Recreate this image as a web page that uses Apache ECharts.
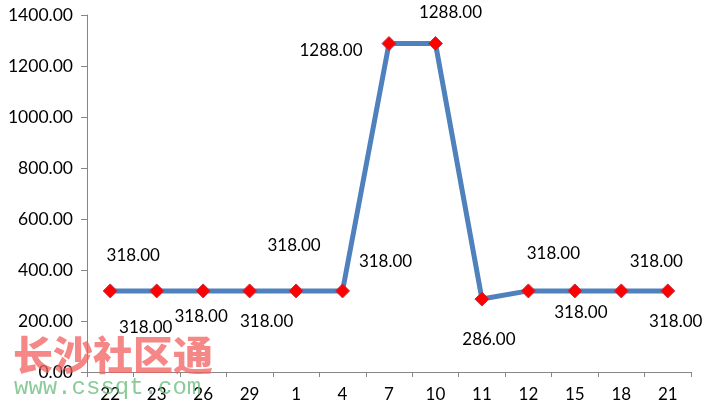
<!DOCTYPE html>
<html>
<head>
<meta charset="utf-8">
<script src="https://cdn.jsdelivr.net/npm/echarts@6/dist/echarts.min.js"></script>
<style>
html,body{margin:0;padding:0;background:#fff;}
#chart{width:712px;height:414px;}
</style>
</head>
<body>
<div id="chart"></div>
<script>
var categories = ['22','23','26','29','1','4','7','10','11','12','15','18','21'];
var values = [318, 318, 318, 318, 318, 318, 1288, 1288, 286, 318, 318, 318, 318];
var yMin = 0, yMax = 1400, yStep = 200;

// label placement offsets (layout only)
var labelOffsets = [[23,-35],[-11,37],[-2,26],[17,31],[-2,-45],[43,-29],[-58,7],[15,-31],[7,40],[25,-37],[6,22],[35,-29],[8,31]];

var FONT = 'Lato, "Open Sans", sans-serif';
var chart = echarts.init(document.getElementById('chart'), null, {renderer:'canvas'});
var seriesData = values.map(function(v, i){
  return {
    value: v,
    label: { show: true, position: 'inside', offset: labelOffsets[i] }
  };
});
chart.setOption({
  animation: false,
  backgroundColor: '#ffffff',
  grid: { left: 87, right: 21, top: 15, bottom: 42, containLabel: false },
  xAxis: {
    type: 'category',
    data: categories,
    boundaryGap: true,
    axisLine: { lineStyle: { color: '#868686', width: 1 } },
    axisTick: { show: true, alignWithLabel: false, length: 5, lineStyle: { color: '#868686' } },
    axisLabel: { color: '#000', fontFamily: FONT, fontSize: 17, margin: 14 },
    splitLine: { show: false }
  },
  yAxis: {
    type: 'value',
    min: yMin, max: yMax, interval: yStep,
    axisLine: { show: true, lineStyle: { color: '#868686', width: 1 } },
    axisTick: { show: true, length: 6, lineStyle: { color: '#868686' } },
    axisLabel: { color: '#000', fontFamily: FONT, fontSize: 17.5, margin: 14,
      formatter: function(v){ return v.toFixed(2); } },
    splitLine: { show: false }
  },
  series: [{
    type: 'line',
    data: seriesData,
    symbol: 'diamond',
    symbolSize: 14,
    showAllSymbol: true,
    lineStyle: { color: '#4F81BD', width: 5 },
    itemStyle: { color: '#FF0000', borderColor: '#C0304A', borderWidth: 1 },
    label: {
      show: true,
      color: '#000',
      fontFamily: FONT,
      fontSize: 17,
      formatter: function(p){ return p.value.toFixed(2); }
    },
    z: 3
  }],
  graphic: [
    { type: 'text', left: 13, top: 335, z: 100,
      style: { text: '长沙社区通', fill: 'rgba(242,95,95,0.75)', font: '900 40px "Noto Sans CJK SC"' } },
    { type: 'text', left: 14, top: 376, z: 100,
      style: { text: 'www.cssqt.com', fill: 'rgba(100,185,120,0.75)', font: '24px "Liberation Mono", monospace' } }
  ]
});
</script>
</body>
</html>
